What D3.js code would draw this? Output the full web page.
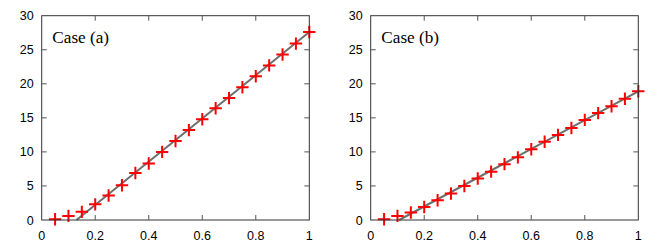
<!DOCTYPE html>
<html>
<head>
<meta charset="utf-8">
<script src="https://cdn.jsdelivr.net/npm/d3@7"></script>
<style>
  body { margin: 0; background: #fff; }
</style>
</head>
<body>
<div id="content"></div>
<script>
const xs = [0.05,0.1,0.15,0.2,0.25,0.3,0.35,0.4,0.45,0.5,0.55,0.6,0.65,0.7,0.75,0.8,0.85,0.9,0.95,1.0];
const caseA = [0.1,0.6,1.2,2.3,3.6,5.1,6.9,8.3,10.0,11.6,13.2,14.8,16.4,17.9,19.5,21.1,22.7,24.3,25.9,27.6];
const caseB = [0.1,0.6,1.1,1.9,2.9,3.9,5.0,6.1,7.1,8.2,9.2,10.4,11.5,12.5,13.5,14.7,15.7,16.7,17.8,18.9];
const fitAx = [0.13, 1], fitAy = [0, 27.6];
const fitBx = [0.106, 1], fitBy = [0, 18.9];
const xTicks = [0,0.2,0.4,0.6,0.8,1];
const yTicks = [0,5,10,15,20,25,30];
const labels = ["Case (a)", "Case (b)"];

const w = 661, h = 250;
const sans = "'Liberation Sans', Arial, Helvetica, sans-serif";
const serif = "'Liberation Serif', 'Times New Roman', Times, serif";
const svg = d3.select("#content").append("svg").attr("width", w).attr("height", h);

const panels = [
  {left: 41.7, right: 309.3, pts: caseA, fx: fitAx, fy: fitAy, label: labels[0]},
  {left: 370.7, right: 638.3, pts: caseB, fx: fitBx, fy: fitBy, label: labels[1]}
];
const plotTop = 15.7, plotBottom = 220;

panels.forEach(p => {
  const g = svg.append("g");
  const xScale = d3.scaleLinear().domain([0,1]).range([p.left, p.right]);
  const yScale = d3.scaleLinear().domain([0,30]).range([plotBottom, plotTop]);
  const tl = 5;

  // fit line
  g.append("path")
    .datum(p.fx.map((x,i)=>[x, p.fy[i]]))
    .attr("d", d3.line().x(d=>xScale(d[0])).y(d=>yScale(d[1])))
    .attr("fill","none").attr("stroke","#6e6e6e").attr("stroke-width",2);

  // markers
  const s = 6.2;
  g.selectAll(".pt").data(xs).enter().append("path")
    .attr("class","pt")
    .attr("d",(d,i)=>{
      const cx = xScale(d), cy = yScale(p.pts[i]);
      return `M${cx-s},${cy}H${cx+s}M${cx},${cy-s}V${cy+s}`;
    })
    .attr("stroke","#ff0000").attr("stroke-width",2).attr("fill","none");

  // frame
  g.append("rect")
    .attr("x", p.left).attr("y", plotTop)
    .attr("width", p.right-p.left).attr("height", plotBottom-plotTop)
    .attr("fill","none").attr("stroke","#333").attr("stroke-width",1);

  // ticks (inward, mirrored)
  xTicks.slice(1,-1).forEach(t => {
    const x = xScale(t);
    g.append("line").attr("x1",x).attr("x2",x).attr("y1",plotBottom).attr("y2",plotBottom-tl).attr("stroke","#555");
    g.append("line").attr("x1",x).attr("x2",x).attr("y1",plotTop).attr("y2",plotTop+tl).attr("stroke","#555");
  });
  yTicks.slice(1,-1).forEach(t => {
    const y = yScale(t);
    g.append("line").attr("x1",p.left).attr("x2",p.left+tl).attr("y1",y).attr("y2",y).attr("stroke","#555");
    g.append("line").attr("x1",p.right).attr("x2",p.right-tl).attr("y1",y).attr("y2",y).attr("stroke","#555");
  });

  // tick labels
  g.selectAll(".xl").data(xTicks).enter().append("text")
    .attr("x", d=>xScale(d)).attr("y", plotBottom+20)
    .attr("text-anchor","middle").attr("font-size",12.5).attr("font-family",sans).attr("fill","#000")
    .text(d=>d3.format("~g")(d));
  g.selectAll(".yl").data(yTicks).enter().append("text")
    .attr("x", p.left-8).attr("y", d=>yScale(d)+4.5)
    .attr("text-anchor","end").attr("font-size",12.5).attr("font-family",sans).attr("fill","#000")
    .text(d=>d);

  g.append("text")
    .attr("x", p.left+10.6).attr("y", 43.3)
    .attr("font-family", serif)
    .attr("font-size",17.2).attr("fill","#000")
    .text(p.label);
});
</script>
</body>
</html>
